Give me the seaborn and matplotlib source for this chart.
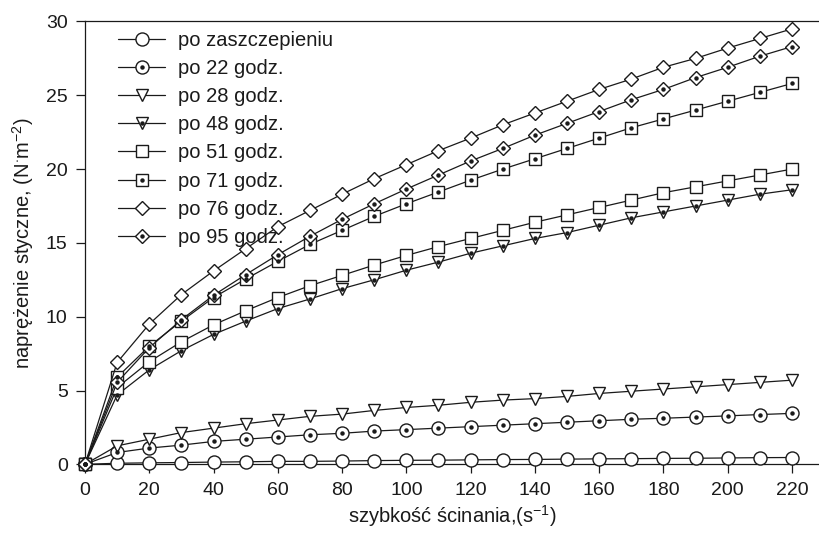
import numpy as np
import pandas as pd
import matplotlib
matplotlib.use("Agg")
import matplotlib.pyplot as plt
from matplotlib.lines import Line2D
from matplotlib.legend_handler import HandlerTuple
import seaborn as sns

# shear rate, s^-1
shear_rate = [0, 10, 20, 30, 40, 50, 60, 70, 80, 90, 100, 110,
              120, 130, 140, 150, 160, 170, 180, 190, 200, 210, 220]

# shear stress, N m^-2, for each fermentation time
po_zaszczepieniu = [0, 0.07, 0.10, 0.12, 0.15, 0.17, 0.20, 0.20, 0.22, 0.25, 0.27, 0.28,
                    0.30, 0.32, 0.33, 0.35, 0.37, 0.38, 0.40, 0.41, 0.43, 0.45, 0.46]
po_22 = [0, 0.80, 1.10, 1.30, 1.55, 1.70, 1.85, 2.00, 2.10, 2.25, 2.35, 2.45,
         2.55, 2.65, 2.75, 2.85, 2.95, 3.05, 3.12, 3.20, 3.28, 3.37, 3.45]
po_28 = [0, 1.25, 1.70, 2.15, 2.45, 2.75, 3.00, 3.25, 3.40, 3.65, 3.85, 4.00,
         4.20, 4.35, 4.45, 4.60, 4.80, 4.95, 5.10, 5.25, 5.40, 5.55, 5.70]
po_48 = [0, 4.70, 6.40, 7.70, 8.80, 9.70, 10.55, 11.20, 11.90, 12.50, 13.15, 13.70,
         14.30, 14.80, 15.30, 15.70, 16.20, 16.70, 17.10, 17.50, 17.90, 18.30, 18.60]
po_51 = [0, 5.20, 6.95, 8.30, 9.45, 10.40, 11.30, 12.10, 12.80, 13.50, 14.15, 14.75,
         15.30, 15.85, 16.40, 16.90, 17.40, 17.90, 18.40, 18.80, 19.20, 19.60, 20.00]
po_71 = [0, 5.90, 8.00, 9.70, 11.30, 12.55, 13.75, 14.90, 15.85, 16.80, 17.65, 18.45,
         19.25, 20.00, 20.70, 21.40, 22.10, 22.80, 23.40, 24.00, 24.60, 25.20, 25.80]
po_76 = [0, 6.90, 9.50, 11.50, 13.10, 14.60, 16.10, 17.20, 18.30, 19.35, 20.30, 21.25,
         22.10, 23.00, 23.80, 24.60, 25.40, 26.10, 26.90, 27.50, 28.20, 28.85, 29.50]
po_95 = [0, 5.55, 7.90, 9.80, 11.45, 12.85, 14.20, 15.45, 16.60, 17.65, 18.65, 19.60,
         20.55, 21.40, 22.30, 23.10, 23.90, 24.70, 25.40, 26.20, 26.90, 27.65, 28.30]

labels = ["po zaszczepieniu", "po 22 godz.", "po 28 godz.", "po 48 godz.",
          "po 51 godz.", "po 71 godz.", "po 76 godz.", "po 95 godz."]
series = [po_zaszczepieniu, po_22, po_28, po_48, po_51, po_71, po_76, po_95]

# marker shape, size, and whether a centre dot is drawn
markers = ["o", "o", "v", "v", "s", "s", "D", "D"]
sizes = [9.4, 9.4, 8.8, 8.8, 8.0, 8.0, 7.6, 7.6]
dotted = [False, True, False, True, False, True, False, True]

df = pd.DataFrame({
    "x": np.tile(shear_rate, len(series)),
    "y": np.concatenate(series),
    "seria": np.repeat(labels, len(shear_rate)),
})

sns.set_style("ticks")
plt.rcParams["font.family"] = ["Liberation Sans", "DejaVu Sans"]
plt.rcParams["mathtext.fontset"] = "custom"
plt.rcParams["mathtext.rm"] = "Liberation Sans"
plt.rcParams["mathtext.it"] = "Liberation Sans"

ink = "#1a1a1a"
fig = plt.figure(figsize=(8.2, 5.33), dpi=100)
ax = fig.add_axes([85 / 820, 68.7 / 533, 735 / 820, 442.8 / 533])

handles = []
for lab, mk, ms, dot in zip(labels, markers, sizes, dotted):
    sub = df[df["seria"] == lab]
    sns.lineplot(data=sub, x="x", y="y", ax=ax, color=ink, lw=0.9,
                 marker=mk, markersize=ms, markerfacecolor="white",
                 markeredgecolor=ink, markeredgewidth=1.0,
                 clip_on=False, zorder=3, legend=False)
    h = Line2D([], [], color=ink, lw=0.9, marker=mk, markersize=ms,
               markerfacecolor="white", markeredgecolor=ink, markeredgewidth=1.0)
    if dot:
        ax.plot(sub["x"], sub["y"], ls="none", marker="o", markersize=2.2,
                color=ink, clip_on=False, zorder=4)
        d = Line2D([], [], ls="none", marker="o", markersize=2.2, color=ink)
        handles.append((h, d))
    else:
        handles.append((h,))

ax.set_xlim(0, (820 - 85) / (707 / 220))
ax.set_ylim(0, 30)
ax.set_xticks(range(0, 221, 20))
ax.set_yticks(range(0, 31, 5))
ax.tick_params(axis="both", direction="out", length=6.5, width=0.9,
               colors=ink, labelsize=14, pad=6)

for side in ["left", "bottom", "top"]:
    ax.spines[side].set_linewidth(0.9)
    ax.spines[side].set_color(ink)
ax.spines["right"].set_visible(False)

ax.set_xlabel(r"szybkość ścinania,(s$^{-1}$)", fontsize=14.5, color=ink, labelpad=3)
ax.set_ylabel(r"naprężenie styczne, (N$^{\cdot}$m$^{-2}$)", fontsize=14.5, color=ink, labelpad=7)

ax.legend(handles, labels, handler_map={tuple: HandlerTuple(ndivide=1, pad=0)},
          loc="upper left", bbox_to_anchor=(0.045, 0.978), frameon=False,
          borderaxespad=0, borderpad=0, fontsize=14.5, handlelength=2.34,
          handletextpad=0.65, labelspacing=0.45, labelcolor=ink)

fig.savefig("out.png", dpi=100)
